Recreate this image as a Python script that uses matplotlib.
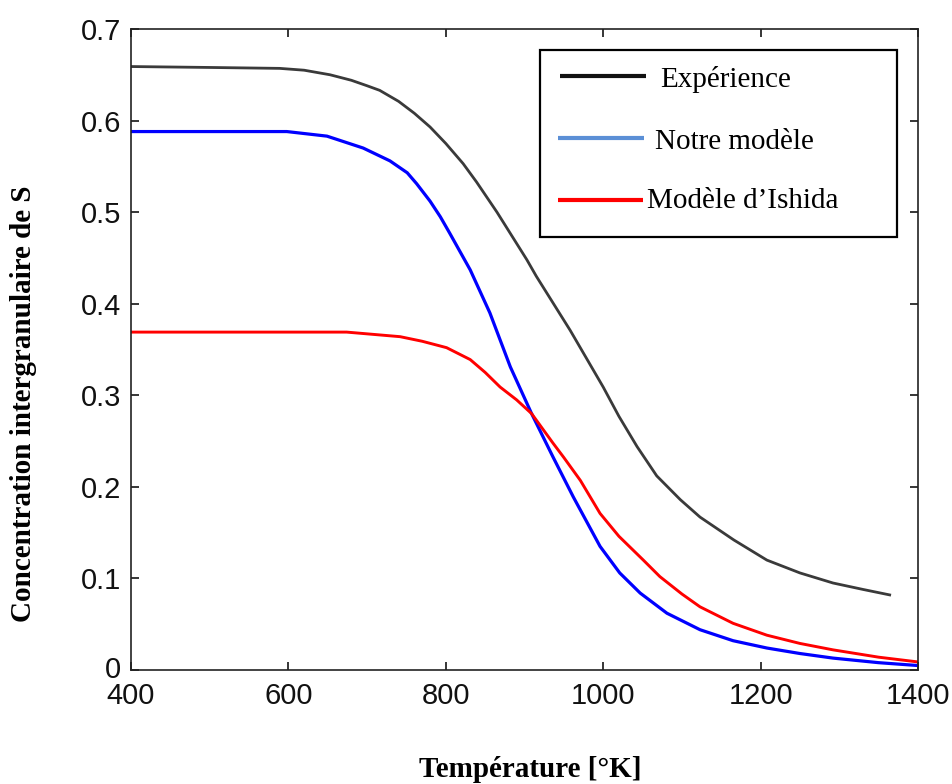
import matplotlib
matplotlib.use("Agg")
import matplotlib.pyplot as plt
import matplotlib.transforms as mtransforms
from matplotlib.patches import Rectangle

# values
temp_exp = [400, 500, 589, 620, 653, 680, 700, 716, 740, 760, 780, 800, 822, 839,
            865, 903, 915, 958, 1000, 1020, 1043, 1068, 1098, 1123, 1166, 1208,
            1250, 1292, 1330, 1364]
conc_exp = [0.659, 0.658, 0.657, 0.655, 0.650, 0.644, 0.638, 0.633, 0.621, 0.608,
            0.593, 0.575, 0.553, 0.533, 0.500, 0.448, 0.430, 0.371, 0.309, 0.277,
            0.244, 0.212, 0.186, 0.167, 0.142, 0.120, 0.106, 0.095, 0.088, 0.082]

temp_notre = [400, 500, 598, 649, 695, 729, 751, 763, 780, 793, 805, 831, 856,
              882, 909, 936, 962, 996, 1021, 1047, 1081, 1123, 1165, 1208,
              1250, 1292, 1350, 1398]
conc_notre = [0.588, 0.588, 0.588, 0.583, 0.570, 0.556, 0.543, 0.531, 0.512, 0.495,
              0.477, 0.437, 0.390, 0.331, 0.280, 0.233, 0.189, 0.135,
              0.106, 0.084, 0.062, 0.044, 0.032, 0.024, 0.018, 0.013, 0.008, 0.005]

temp_ishida = [400, 500, 615, 674, 742, 770, 801, 831, 850, 869, 890, 909, 936,
               950, 971, 996, 1020, 1051, 1072, 1100, 1123, 1165, 1208, 1250, 1292,
               1350, 1398]
conc_ishida = [0.369, 0.369, 0.369, 0.369, 0.364, 0.359, 0.352, 0.339, 0.325,
               0.309, 0.295, 0.280, 0.248, 0.232, 0.207, 0.171, 0.146, 0.120, 0.102,
               0.083, 0.069, 0.051, 0.038, 0.029, 0.022, 0.014, 0.009]

labels = ["Expérience", "Notre modèle", "Modèle d\u2019Ishida"]
legend_colors = ["#111111", "#5b8fd6", "#ff0000"]
x_ticks = [400, 600, 800, 1000, 1200, 1400]
y_ticks = [0, 0.1, 0.2, 0.3, 0.4, 0.5, 0.6, 0.7]
y_ticklabels = ["0", "0.1", "0.2", "0.3", "0.4", "0.5", "0.6", "0.7"]

fig = plt.figure(figsize=(9.52, 7.84), dpi=100)
ax = fig.add_axes([131/952, 1 - 670/784, 787/952, 641/784])

ax.plot(temp_exp, conc_exp, color="#3a3a3a", lw=2.0)
ax.plot(temp_notre, conc_notre, color="#0000ff", lw=2.3)
ax.plot(temp_ishida, conc_ishida, color="#ff0000", lw=2.1)

ax.set_xlim(400, 1400)
ax.set_ylim(0, 0.7)
ax.set_xticks(x_ticks)
ax.set_yticks(y_ticks)
ax.set_yticklabels(y_ticklabels)
ax.tick_params(direction="in", length=6, width=1.1, top=True, right=True,
               labelsize=21, labelcolor="#111111")
ax.tick_params(axis="x", pad=9)
ax.tick_params(axis="y", pad=7)
for lab in ax.get_xticklabels() + ax.get_yticklabels():
    lab.set_family("Liberation Sans")
# nudge the "0" label up a little so it does not touch "400"
zero_lab = ax.get_yticklabels()[0]
zero_lab.set_transform(zero_lab.get_transform() +
                       mtransforms.ScaledTranslation(0, 3/100, fig.dpi_scale_trans))
for sp in ax.spines.values():
    sp.set_linewidth(1.2)
    sp.set_color("#222222")

# legend box drawn by hand (its blue differs from the plotted blue)
ax.add_patch(Rectangle((0.5197, 0.6755), 0.4536, 0.2917, transform=ax.transAxes,
                       fill=True, facecolor="white", edgecolor="black", lw=1.6, zorder=5))
line_x = [(0.5451, 0.6544), (0.5426, 0.6518), (0.5426, 0.6506)]
line_y = [0.9267, 0.8300, 0.7332]
text_x = [0.6722, 0.6658, 0.6561]
text_y = [0.9095, 0.8128, 0.7207]
for i in range(3):
    ax.plot(line_x[i], [line_y[i], line_y[i]], color=legend_colors[i], lw=3,
            transform=ax.transAxes, zorder=6, solid_capstyle="butt")
    ax.text(text_x[i], text_y[i], labels[i], transform=ax.transAxes, fontsize=21,
            family="Liberation Serif", va="baseline", ha="left", zorder=6)

fig.text(530/952, 1 - 777/784, "Température [°K]", fontsize=21, fontweight="bold",
         family="Liberation Serif", ha="center", va="baseline")
fig.text(24/952, 1 - 404/784, "Concentration intergranulaire de S", fontsize=21,
         fontweight="bold", family="Liberation Serif", rotation=90,
         ha="center", va="center")

fig.savefig("out.png", dpi=100)
